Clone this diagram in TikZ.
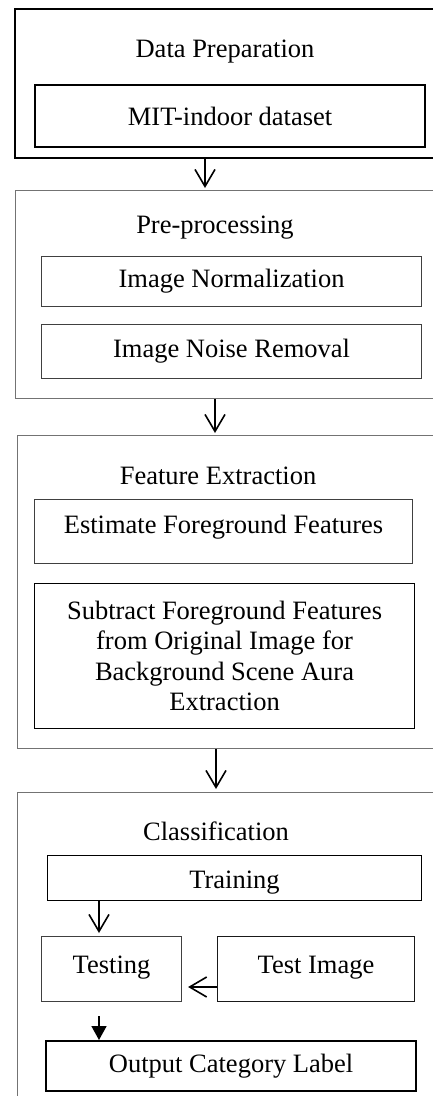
\documentclass[tikz,border=0pt]{standalone}
\usepackage{fontspec}
\setmainfont{Liberation Serif}
\usetikzlibrary{arrows.meta}
\begin{document}
\begin{tikzpicture}[x=1pt,y=-1pt,
  every node/.style={font=\fontsize{26.5}{30.5}\selectfont,inner sep=0pt},
  grp/.style={draw=black!55,line width=1.4pt,anchor=north west},
  box/.style={draw=black!75,line width=1.1pt,anchor=north west,align=center},
  thk/.style={draw=black,line width=2.2pt,anchor=north west,align=center},
  arr/.style={-{Straight Barb[length=17pt,width=20pt]},line width=1.6pt},
  farr/.style={-{Triangle[length=14pt,width=15pt]},line width=1.6pt}]
  \useasboundingbox (0,0) rectangle (433,1096);
  % data preparation
  \node[thk,minimum width=440pt,minimum height=149pt] (prep) at (14,8) {};
  \node (preptitle) at (225,52) {Data Preparation};
  \node[thk,minimum width=390pt,minimum height=62pt] (mit) at (34,84) {MIT-indoor dataset};
  % pre-processing
  \node[grp,minimum width=440pt,minimum height=208pt] (pre) at (15,190) {};
  \node (pretitle) at (215,228) {Pre-processing};
  \node[box,minimum width=380pt,minimum height=50pt] (norm) at (41,256) {Image Normalization};
  \node[box,minimum width=380pt,minimum height=54pt] (noise) at (41,324) {Image Noise Removal};
  % feature extraction
  \node[grp,minimum width=440pt,minimum height=313pt] (feat) at (17,435) {};
  \node (feattitle) at (218,476) {Feature Extraction};
  \node[box,minimum width=378pt,minimum height=64pt,text height=18pt,text depth=14pt] (est) at (34,499)
    {Estimate Foreground Features};
  \node[box,draw=black,minimum width=380pt,minimum height=145pt] (sub) at (34,583)
    {Subtract Foreground Features\\from Original Image for\\Background Scene Aura\\Extraction};
  % classification
  \node[grp,minimum width=440pt,minimum height=330pt] (cls) at (17,792) {};
  \node (clstitle) at (216,831) {Classification};
  \node[box,draw=black,minimum width=374pt,minimum height=45pt,text height=21pt,text depth=0pt] (train) at (47,855) {Training};
  \node[box,minimum width=140pt,minimum height=65pt,text height=18pt,text depth=9pt] (test) at (41,936) {Testing};
  \node[box,draw=black!90,minimum width=197pt,minimum height=65pt,text height=18pt,text depth=9pt] (timg) at (217,936) {Test Image};
  \node[thk,minimum width=370pt,minimum height=50pt] (out) at (45,1040) {Output Category Label};
  % arrows
  \draw[arr] (prep.south -| 205,0) -- ([yshift=2pt]pre.north -| 205,0);
  \draw[arr] (pre.south -| 215,0) -- ([yshift=2pt]feat.north -| 215,0);
  \draw[arr] (feat.south -| 216,0) -- ([yshift=3pt]cls.north -| 216,0);
  \draw[arr] (train.south -| 99,0) -- ([yshift=3pt]test.north -| 99,0);
  \draw[arr] (timg.west |- 0,987) -- ([xshift=6pt]test.east |- 0,987);
  \draw[farr,shorten <=14pt] (test.south -| 99,0) -- (out.north -| 99,0);
\end{tikzpicture}
\end{document}
